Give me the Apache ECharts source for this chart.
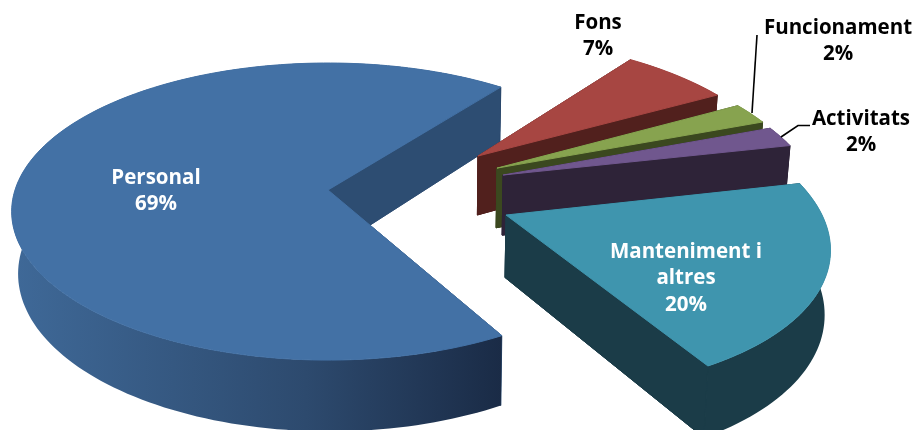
<!DOCTYPE html>
<html><head><meta charset="utf-8">
<style>html,body{margin:0;padding:0;background:#fff}#c{width:915px;height:430px}</style>
<script src="https://cdn.jsdelivr.net/npm/echarts@6/dist/echarts.min.js"></script>
</head><body><div id="c"></div>
<script>
const categories = ['Personal', 'Fons', 'Funcionament', 'Activitats', 'Manteniment i\naltres'];
const shares = [68.6, 6.5, 2.3, 2.2, 20.4];

const topColors = ['#4371a5', '#a74642', '#87a34f', '#70578e', '#3f95ae'];
const wallColors = ['#2d4d72', '#51201d', '#3b481f', '#2e2338', '#1b3c48'];
const textColors = ['#fff', '#000', '#000', '#000', '#fff'];
const explode = [[0, 0], [.496, -.242], [.552, -.154], [.568, -.1047], [.555, .168]];
const radius = [1, 1, 1, 1, .985];
const labelPos = [[156, 178], [598, 23], [838, 28], [861, 119], [686, 252]];
const leaders = [null, null, [[757, 35], [752, 113]], [[781, 137], [798, 125.5], [810, 125.5]], null];

const START = -61, X0 = 328, Y0 = 190, BX = 313, AY = 145.4, K = .145, DEPTH = 61;
const FONT = 'bold 20.5px "Open Sans", Lato, sans-serif';
const LINE = 26.5;

function project(px, py, low) {
  const den = 1 - K * py;
  let x = X0 + BX * px / den, y = Y0 + AY * py / den;
  if (low) { x = 440 + (x - 440) * .985; y += DEPTH / den; }
  return [x, y];
}
function renderItem(params, api) {
  const i = params.dataIndex;
  const before = shares.slice(0, i).reduce((a, b) => a + b, 0);
  const a0 = START - before * 3.6, a1 = a0 - api.value(0) * 3.6;
  const [ox, oy] = explode[i], r = radius[i];
  const rimPlane = [];
  const n = Math.max(8, Math.ceil(Math.abs(a1 - a0) / 1.5));
  for (let s = 0; s <= n; s++) {
    const t = (a0 + (a1 - a0) * s / n) * Math.PI / 180;
    rimPlane.push([ox + r * Math.cos(t), oy - r * Math.sin(t)]);
  }
  const up = rimPlane.map(p => project(p[0], p[1], false));
  const lo = rimPlane.map(p => project(p[0], p[1], true));
  const au = project(ox, oy, false), al = project(ox, oy, true);
  const poly = (points, fill, w) => ({ type: 'polygon', shape: { points }, style: { fill, stroke: fill, lineWidth: w }, silent: true });
  const rimFill = i === 0 ? {
    type: 'linear', x: 0, y: 0, x2: 1, y2: 0,
    colorStops: [{ offset: 0, color: '#3f6998' }, { offset: .6, color: '#2d4a6e' }, { offset: 1, color: '#1a2b46' }]
  } : wallColors[i];
  const children = [
    poly([au, up[0], lo[0], al], wallColors[i], 1),
    poly([au, up[n], lo[n], al], wallColors[i], 1),
    { type: 'polygon', shape: { points: up.concat(lo.slice().reverse()) }, style: { fill: rimFill }, silent: true },
    poly([au, up[n], lo[n], al], wallColors[i], i === 0 ? .4 : 1)
  ];
  children.push(poly([au].concat(up), topColors[i], 1));
  if (leaders[i]) children.push({ type: 'polyline', shape: { points: leaders[i] }, style: { stroke: '#000', lineWidth: 1.6, fill: null }, silent: true });
  const lines = categories[i].split('\n').concat(Math.round(api.value(0)) + '%');
  lines.forEach((t, k) => children.push({
    type: 'text', silent: true,
    style: { text: t, x: labelPos[i][0], y: labelPos[i][1] + k * LINE, align: 'center', verticalAlign: 'middle', font: FONT, fill: textColors[i] }
  }));
  return { type: 'group', children };
}
const chart = echarts.init(document.getElementById('c'), null, { renderer: 'canvas' });
chart.setOption({
  backgroundColor: '#fff',
  animation: false,
  series: [{
    type: 'custom', coordinateSystem: 'none', renderItem, clip: false,
    data: shares.map((v, i) => ({ name: categories[i], value: [v, i] }))
  }]
});
</script></body></html>
